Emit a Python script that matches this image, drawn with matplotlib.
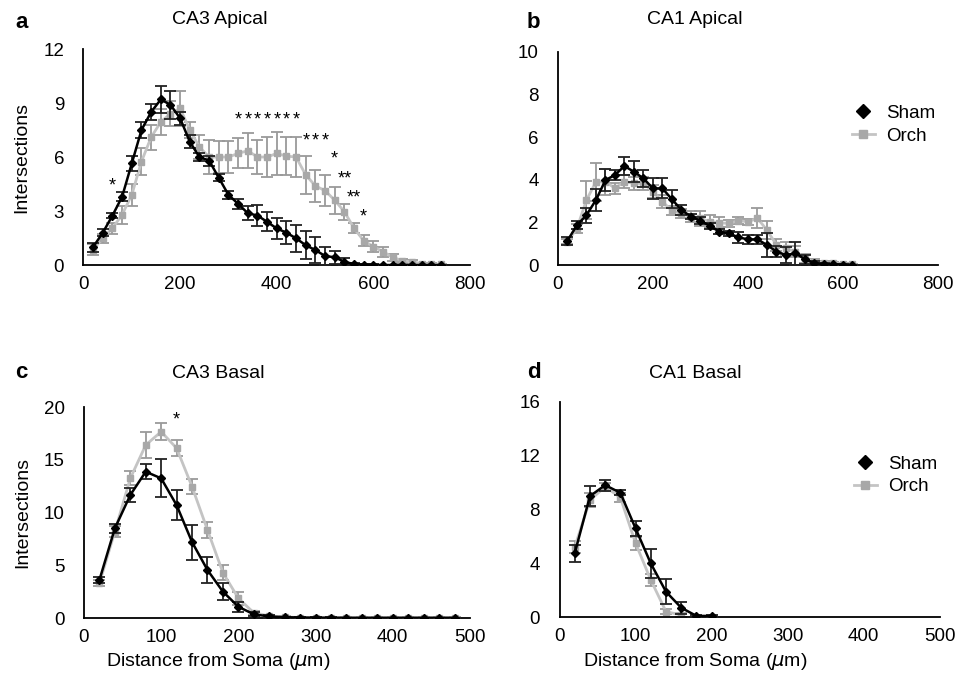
import matplotlib.pyplot as plt
from matplotlib.lines import Line2D

plt.rcParams['font.family'] = ['Liberation Sans', 'DejaVu Sans']

# ---- CA3 apical (panel a) ----
x_a = [20, 40, 60, 80, 100, 120, 140, 160, 180, 200, 220, 240, 260, 280, 300, 320, 340, 360, 380,
       400, 420, 440, 460, 480, 500, 520, 540, 560, 580, 600, 620, 640, 660, 680, 700, 720, 740]
sham_a = [1.0, 1.8, 2.75, 3.8, 5.65, 7.5, 8.5, 9.2, 8.9, 8.15, 6.85, 6.0, 5.8, 4.85, 3.9, 3.4, 2.88,
          2.75, 2.4, 2.03, 1.8, 1.48, 1.1, 0.83, 0.5, 0.43, 0.18, 0.05, 0.02, 0.01, 0, 0, 0, 0, 0, 0, 0]
sham_a_err = [0.25, 0.2, 0.15, 0.25, 0.42, 0.43, 0.46, 0.74, 0.78, 0.37, 0.37, 0.23, 0.28, 0.2, 0.23,
              0.28, 0.4, 0.58, 0.53, 0.6, 0.65, 0.74, 0.77, 0.7, 0.5, 0.37, 0.2, 0.08, 0.03, 0.02,
              0, 0, 0, 0, 0, 0, 0]
orch_a = [0.85, 1.5, 2.05, 2.8, 3.9, 5.75, 7.1, 7.95, 8.4, 8.7, 7.5, 6.55, 6.0, 6.0, 6.0, 6.2, 6.35,
          6.0, 6.0, 6.2, 6.05, 6.0, 5.0, 4.4, 4.13, 3.6, 2.96, 2.04, 1.35, 1.02, 0.74, 0.43, 0.24,
          0.18, 0.08, 0.05, 0.03]
orch_a_err = [0.3, 0.25, 0.3, 0.5, 0.6, 0.74, 0.7, 0.74, 0.7, 0.97, 0.46, 0.65, 0.93, 0.88, 0.88,
              0.83, 0.97, 0.93, 1.1, 1.2, 1.05, 1.1, 1.06, 0.88, 0.87, 0.74, 0.44, 0.28, 0.3, 0.3,
              0.28, 0.2, 0.12, 0.1, 0.06, 0.04, 0.03]
stars_a = [(60, 4.4, "*"), (320, 8.05, "*"), (340, 8.05, "*"), (360, 8.05, "*"), (380, 8.05, "*"),
           (400, 8.05, "*"), (420, 8.05, "*"), (440, 8.05, "*"), (460, 6.9, "*"), (480, 6.9, "*"),
           (500, 6.9, "*"), (520, 5.87, "*"), (540, 4.78, "**"), (560, 3.7, "**"), (580, 2.65, "*")]

# ---- CA1 apical (panel b) ----
x_b = [20, 40, 60, 80, 100, 120, 140, 160, 180, 200, 220, 240, 260, 280, 300, 320, 340, 360, 380,
       400, 420, 440, 460, 480, 500, 520, 540, 560, 580, 600, 620]
sham_b = [1.14, 1.87, 2.34, 3.05, 3.98, 4.22, 4.64, 4.37, 4.06, 3.59, 3.59, 3.08, 2.58, 2.27, 2.08,
          1.83, 1.56, 1.48, 1.3, 1.2, 1.2, 0.94, 0.63, 0.47, 0.55, 0.27, 0.08, 0.05, 0.03, 0.02, 0.0]
sham_b_err = [0.18, 0.2, 0.35, 0.53, 0.5, 0.23, 0.43, 0.5, 0.4, 0.49, 0.47, 0.43, 0.23, 0.12, 0.15,
              0.15, 0.12, 0.1, 0.26, 0.23, 0.23, 0.57, 0.27, 0.37, 0.55, 0.2, 0.1, 0.05, 0.03, 0.02, 0.0]
orch_b = [1.1, 1.72, 3.05, 3.9, 3.9, 3.6, 3.9, 3.83, 3.83, 3.44, 2.97, 2.55, 2.42, 2.27, 2.19, 2.03,
          1.98, 1.95, 2.08, 2.03, 2.19, 1.64, 0.94, 0.78, 0.63, 0.3, 0.16, 0.1, 0.08, 0.05, 0.03]
orch_b_err = [0.12, 0.2, 0.9, 0.9, 0.6, 0.25, 0.3, 0.3, 0.3, 0.3, 0.3, 0.2, 0.2, 0.25, 0.35, 0.3,
              0.25, 0.15, 0.15, 0.15, 0.47, 0.43, 0.3, 0.3, 0.25, 0.2, 0.12, 0.08, 0.06, 0.04, 0.03]

# ---- CA3 basal (panel c) ----
x_c = [20, 40, 60, 80, 100, 120, 140, 160, 180, 200, 220, 240, 260, 280, 300, 320, 340, 360, 380,
       400, 420, 440, 460, 480]
sham_c = [3.6, 8.5, 11.66, 13.87, 13.24, 10.7, 7.2, 4.55, 2.5, 1.07, 0.35, 0.15, 0.08, 0.05, 0.03,
          0.03, 0.02, 0.02, 0.02, 0.02, 0.02, 0.02, 0.02, 0.02]
sham_c_err = [0.3, 0.4, 0.63, 0.73, 1.8, 1.42, 1.66, 1.26, 0.79, 0.47, 0.2, 0.1, 0.05, 0.03, 0.03,
              0.03, 0.03, 0.03, 0.03, 0.03, 0.03, 0.03, 0.03, 0.03]
orch_c = [3.29, 8.2, 13.24, 16.4, 17.66, 16.1, 12.45, 8.34, 4.3, 1.87, 0.5, 0.2, 0.1, 0.05, 0.03,
          0.03, 0.03, 0.03, 0.03, 0.03, 0.03, 0.03, 0.03, 0.03]
orch_c_err = [0.3, 0.5, 0.66, 1.2, 0.82, 0.79, 0.69, 0.79, 0.7, 0.63, 0.2, 0.1, 0.05, 0.03, 0.03,
              0.03, 0.03, 0.03, 0.03, 0.03, 0.03, 0.03, 0.03, 0.03]
stars_c = [(120, 18.77, "*")]

# ---- CA1 basal (panel d) ----
x_d_sham = [20, 40, 60, 80, 100, 120, 140, 160, 180, 200]
sham_d = [4.75, 9.0, 9.82, 9.25, 6.6, 4.0, 1.9, 0.71, 0.1, 0.1]
sham_d_err = [0.62, 0.74, 0.4, 0.2, 0.56, 1.1, 0.95, 0.43, 0.05, 0.05]
x_d_orch = [20, 40, 60, 80, 100, 120, 140, 160]
orch_d = [5.22, 8.7, 9.7, 8.9, 5.5, 2.77, 0.42, 0.17]
orch_d_err = [0.45, 0.5, 0.3, 0.3, 0.5, 0.45, 0.2, 0.15]

GREY_LINE = '#c4c4c4'
GREY_MARK = '#a8a8a8'
GREY_ERR = '#9a9a9a'


def draw_panel(ax, xs, sham, sham_err, xo, orch, orch_err, xmax, xstep, ymax, ystep):
    ax.errorbar(xo, orch, yerr=orch_err, color=GREY_LINE, lw=2, marker='s', ms=5,
                mfc=GREY_MARK, mec=GREY_MARK, ecolor=GREY_ERR, elinewidth=1.3,
                capsize=4.5, capthick=1.3, zorder=2)
    ax.errorbar(xs, sham, yerr=sham_err, color='black', lw=1.8, marker='D', ms=4.5,
                ecolor='#222222', elinewidth=1.3, capsize=4.5, capthick=1.3, zorder=3)
    ax.set_xlim(0, xmax)
    ax.set_ylim(0, ymax)
    ax.set_xticks(range(0, xmax + 1, xstep))
    ax.set_yticks(range(0, ymax + 1, ystep))
    for s in ['top', 'right']:
        ax.spines[s].set_visible(False)
    for s in ['left', 'bottom']:
        ax.spines[s].set_linewidth(1.3)
    ax.tick_params(length=0, labelsize=13.5)
    ax.tick_params(axis='x', pad=8)
    ax.tick_params(axis='y', pad=14)


fig = plt.figure(figsize=(9.63, 6.82), dpi=100)
ax_a = fig.add_axes([0.0867, 0.6114, 0.4014, 0.3167])
ax_b = fig.add_axes([0.5794, 0.6114, 0.3946, 0.3128])
ax_c = fig.add_axes([0.0872, 0.0938, 0.4008, 0.3094])
ax_d = fig.add_axes([0.5810, 0.0949, 0.3950, 0.3157])

draw_panel(ax_a, x_a, sham_a, sham_a_err, x_a, orch_a, orch_a_err, 800, 200, 12, 3)
draw_panel(ax_b, x_b, sham_b, sham_b_err, x_b, orch_b, orch_b_err, 800, 200, 10, 2)
draw_panel(ax_c, x_c, sham_c, sham_c_err, x_c, orch_c, orch_c_err, 500, 100, 20, 5)
draw_panel(ax_d, x_d_sham, sham_d, sham_d_err, x_d_orch, orch_d, orch_d_err, 500, 100, 16, 4)

for x, y, t in stars_a:
    ax_a.text(x, y, t, ha='center', va='center', fontsize=13)
for x, y, t in stars_c:
    ax_c.text(x, y, t, ha='center', va='center', fontsize=13)

ax_a.set_ylabel("Intersections", fontsize=14, labelpad=9)
ax_c.set_ylabel("Intersections", fontsize=14, labelpad=9)

fig.text(220 / 963, 1 - 20 / 682, "CA3 Apical", ha='center', va='center', fontsize=14)
fig.text(695 / 963, 1 - 20 / 682, "CA1 Apical", ha='center', va='center', fontsize=14)
fig.text(218 / 963, 1 - 373 / 682, "CA3 Basal", ha='center', va='center', fontsize=14)
fig.text(695 / 963, 1 - 373 / 682, "CA1 Basal", ha='center', va='center', fontsize=14)
fig.text(218 / 963, 1 - 661 / 682, r"Distance from Soma ($\mu$m)", ha='center', va='center', fontsize=14)
fig.text(695 / 963, 1 - 661 / 682, r"Distance from Soma ($\mu$m)", ha='center', va='center', fontsize=14)

for lab, px, py in [("a", 15, 22), ("b", 527, 22), ("c", 15, 373), ("d", 527, 373)]:
    fig.text(px / 963, 1 - py / 682, lab, ha='left', va='center', fontsize=16, fontweight='bold')

handles = [Line2D([], [], color='black', marker='D', ms=7, lw=0),
           Line2D([], [], color=GREY_LINE, marker='s', ms=6, mfc=GREY_MARK, mec=GREY_MARK, lw=2)]
for ax in (ax_b, ax_d):
    ax.legend(handles, ["Sham", "Orch"], loc='upper left', bbox_to_anchor=(0.73, 0.83),
              frameon=False, fontsize=13.5, handlelength=1.2, handletextpad=0.6, labelspacing=0.3)

fig.savefig("out.png", dpi=100)
